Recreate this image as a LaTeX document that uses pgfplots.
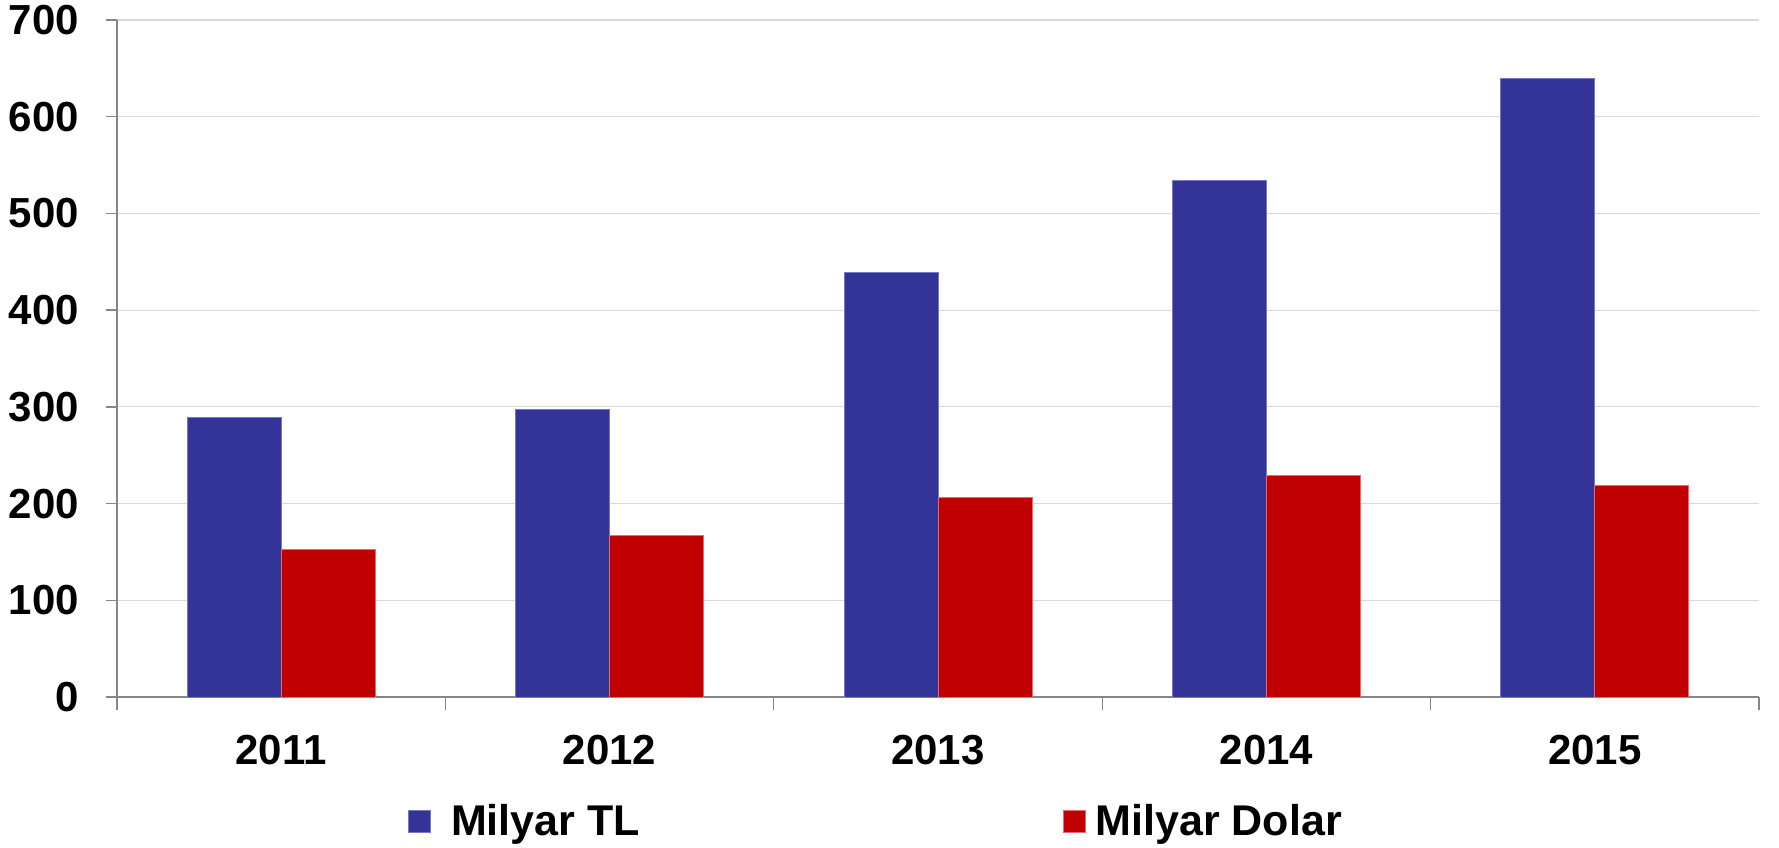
\documentclass[border=0pt]{standalone}
\usepackage{fontspec}
\setmainfont{Liberation Sans}
\usepackage{pgfplots}
\pgfplotsset{compat=1.18}
\definecolor{tlblue}{RGB}{52,51,151}
\definecolor{tledge}{RGB}{120,120,200}
\definecolor{usdred}{RGB}{192,0,0}
\definecolor{usdedge}{RGB}{225,110,110}
\definecolor{axgray}{RGB}{134,134,134}
\definecolor{gridgray}{RGB}{217,217,217}
\begin{document}
\begin{tikzpicture}
\useasboundingbox (-58.5pt,-75pt) rectangle (831pt,348.5pt);
\begin{axis}[
  at={(0,0)}, anchor=south west,
  scale only axis,
  width=821pt, height=338.5pt,
  ybar=0pt, bar width=47pt,
  xmin=-0.5, xmax=4.5,
  ymin=0, ymax=700,
  ytick={0,100,...,700},
  xtick={0,1,2,3,4},
  xticklabels={2011,2012,2013,2014,2015},
  minor xtick={-0.5,0.5,1.5,2.5,3.5,4.5},
  axis x line=bottom, axis y line=left,
  axis line style={-, draw=axgray, line width=0.65pt},
  tick align=outside,
  major x tick style={draw=none},
  minor x tick style={draw=axgray, line width=0.65pt},
  minor tick length=6.5pt,
  major tick length=5.5pt,
  y tick style={draw=axgray, line width=0.65pt},
  ymajorgrids,
  major grid style={draw=gridgray, line width=0.6pt},
  /pgf/number format/assume math mode=true,
  ticklabel style={font=\fontsize{21}{25}\selectfont\bfseries},
  yticklabel style={xshift=-10pt},
  xticklabel style={yshift=-10pt},
  legend columns=2,
  legend style={draw=none, fill=none, at={(0.1772,-0.1832)}, anchor=west,
    font=\fontsize{21.5}{25}\selectfont\bfseries, inner sep=0pt,
    /tikz/every even column/.append style={column sep=209.5pt}},
  legend image code/.code={\fill[#1] (0pt,-5.5pt) rectangle (11pt,5.5pt);},
]
\addplot[fill=tlblue, draw=tledge, line width=0.4pt] coordinates {(0,289) (1,297) (2,439) (3,534) (4,640)};
\addplot[fill=usdred, draw=usdedge, line width=0.4pt] coordinates {(0,153) (1,167) (2,206) (3,229) (4,219)};
\legend{\hspace{8pt}Milyar TL, \hspace{3pt}Milyar Dolar}
\end{axis}
\end{tikzpicture}
\end{document}
